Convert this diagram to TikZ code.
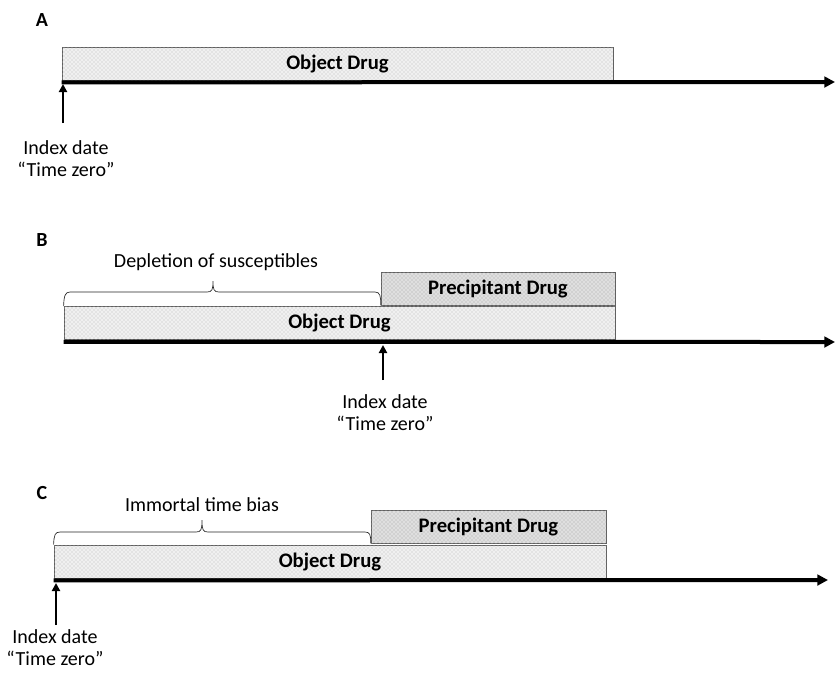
\documentclass[tikz,border=0pt]{standalone}
\usepackage{fontspec}
\setmainfont{Carlito}
\usetikzlibrary{arrows.meta,patterns}

\tikzset{
  drugbox/.style={draw=gray!75!black, line width=0.6pt, minimum height=24.75pt,
    inner sep=0pt, font=\bfseries\fontsize{15.5}{18}\selectfont},
  objbox/.style={drugbox, fill=gray!12, postaction={pattern=crosshatch dots, pattern color=gray!55}},
  prebox/.style={drugbox, fill=gray!25, postaction={pattern=crosshatch dots, pattern color=gray!70}},
  timeaxis/.style={line width=3pt, -{Triangle[length=8pt,width=8pt]}},
  idxarrow/.style={line width=2.2pt, -{Triangle[length=6pt,width=6pt]}},
  idxtext/.style={align=center, inner sep=1pt, font=\fontsize{15}{16.5}\selectfont},
  bracelabel/.style={font=\fontsize{15}{18}\selectfont},
  panel/.style={font=\bfseries\fontsize{15}{17}\selectfont},
  periodbrace/.style={draw=gray!30!black, line width=0.5pt}
}

\begin{document}
\begin{tikzpicture}[x=0.75pt, y=-0.75pt]
\useasboundingbox (0,0) rectangle (838,672);

% A
\node[panel] (labA) at (42,20) {A};
\node[objbox, minimum width=413.25pt] (objA) at (337.5,63.5) {Object Drug};
\coordinate (endA) at (835,82);
\draw[timeaxis] ([yshift=-1.5pt]objA.south west) -- (endA);
\node[idxtext] (idxA) at (66,159) {Index date\\“Time zero”};
\coordinate (tailA) at (63,123);
\coordinate (tipA) at (63,84);
\draw[idxarrow] (tailA) -- (tipA);

% B
\node[panel] (labB) at (42,240) {B};
\node[objbox, minimum width=413.25pt] (objB) at (339.5,323) {Object Drug};
\node[prebox, minimum width=175.5pt] (preB) at (498,288.5) {Precipitant Drug};
\coordinate (endB) at (835,342);
\draw[timeaxis] ([yshift=-1.5pt]objB.south west) -- (endB);
\draw[periodbrace] (objB.north west) .. controls (64,296) and (65,292) .. (70,292)
  -- (207,292) .. controls (212,292) and (213,290) .. (213,281)
  .. controls (213,290) and (214,292) .. (219,292) -- (375,292)
  .. controls (380,292) and (381,296) .. (preB.south west);
\node[bracelabel] (depB) at (216,262) {Depletion of susceptibles};
\node[idxtext] (idxB) at (385,413) {Index date\\“Time zero”};
\coordinate (tailB) at (383,380);
\coordinate (tipB) at (383,345);
\draw[idxarrow] (tailB) -- (tipB);

% C
\node[panel] (labC) at (42,493) {C};
\node[objbox, minimum width=414pt] (objC) at (330,561.5) {Object Drug};
\node[prebox, minimum width=176.25pt] (preC) at (488.5,526.5) {Precipitant Drug};
\coordinate (endC) at (828,580);
\draw[timeaxis] ([yshift=-1.5pt]objC.south west) -- (endC);
\draw[periodbrace] (objC.north west) .. controls (54,535) and (55,532) .. (60,532)
  -- (196,532) .. controls (201,532) and (202,530) .. (202,520)
  .. controls (202,530) and (203,532) .. (208,532) -- (365,532)
  .. controls (370,532) and (371,535) .. (preC.south west);
\node[bracelabel] (immC) at (202,505) {Immortal time bias};
\node[idxtext] (idxC) at (55,648) {Index date\\“Time zero”};
\coordinate (tailC) at (56,625);
\coordinate (tipC) at (56,583);
\draw[idxarrow] (tailC) -- (tipC);
\end{tikzpicture}
\end{document}
